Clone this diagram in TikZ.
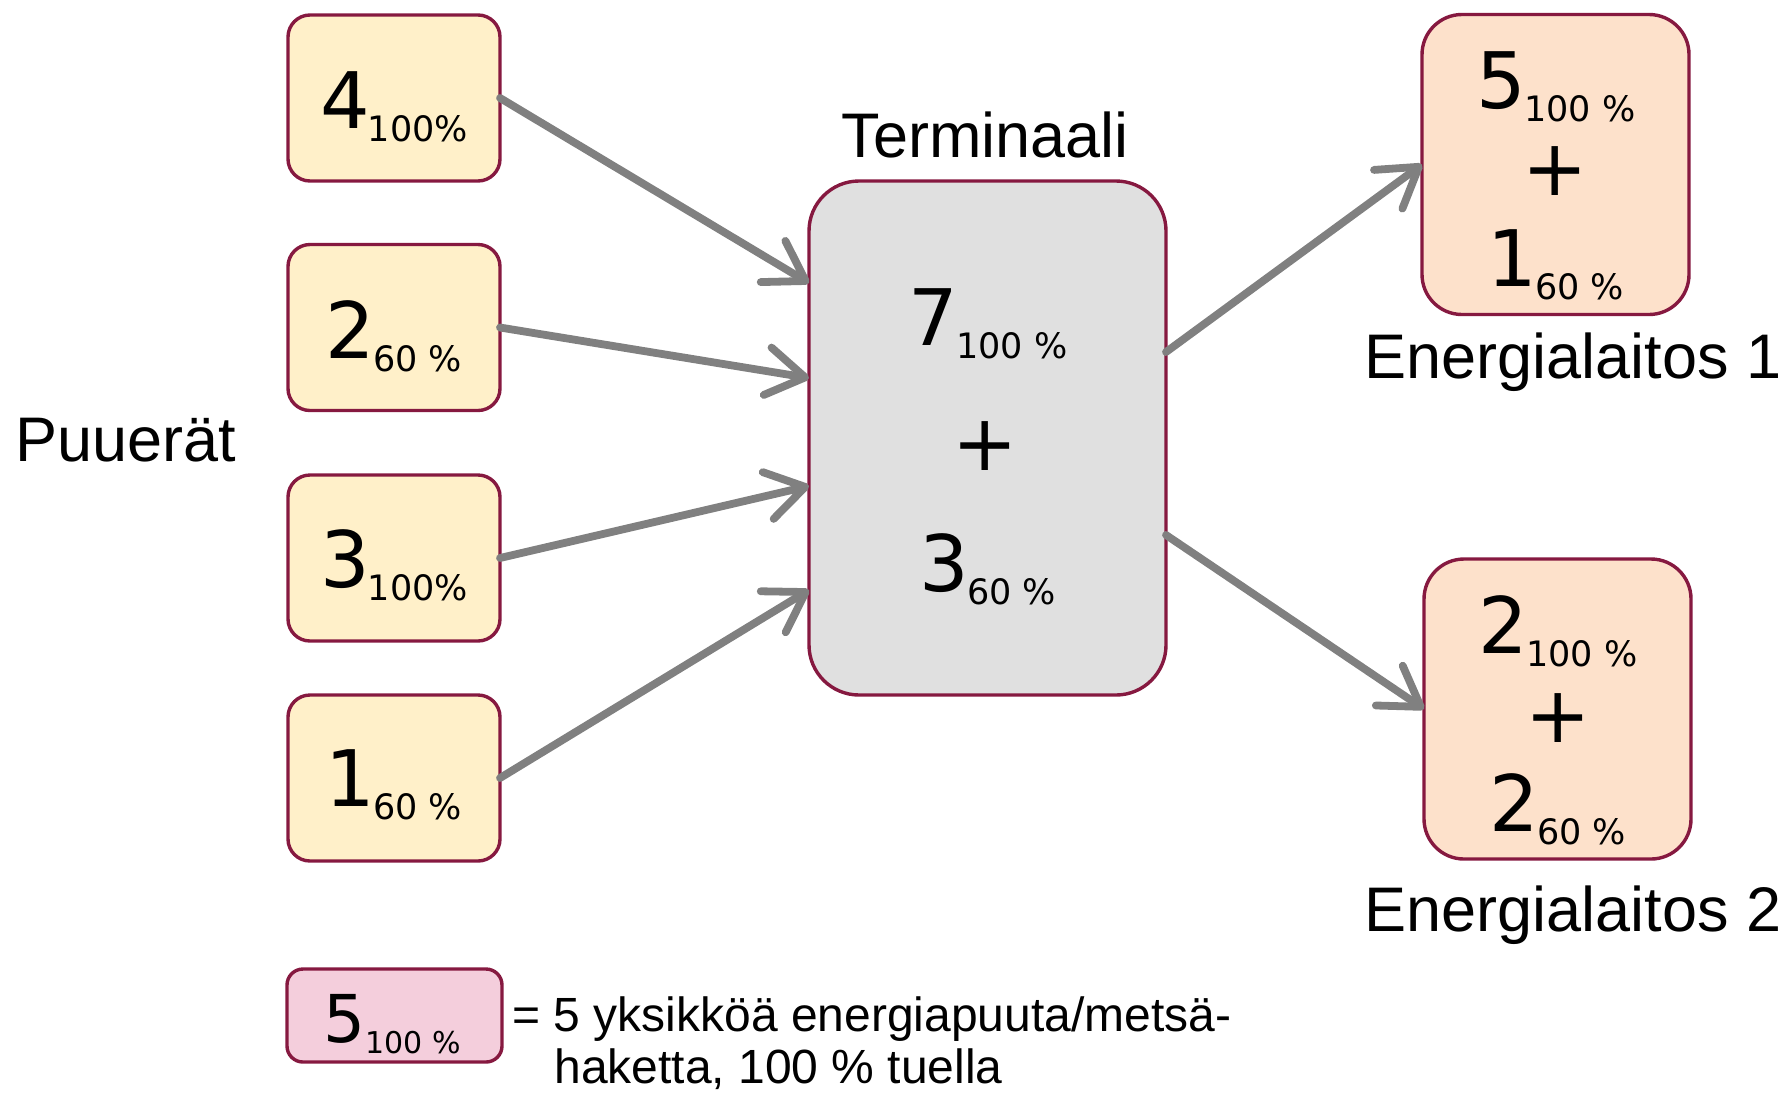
\documentclass[tikz,border=0pt]{standalone}
\usepackage{fontspec}
\usepackage{graphicx}
\usetikzlibrary{arrows.meta,calc}
\newfontfamily\vfont{DejaVu Sans}
\newfontfamily\afont{Liberation Sans}
\definecolor{bordc}{RGB}{134,25,64}
\definecolor{inyel}{RGB}{255,240,201}
\definecolor{termgr}{RGB}{224,224,224}
\definecolor{outpch}{RGB}{253,225,203}
\definecolor{legpnk}{RGB}{244,206,220}
\definecolor{arrgr}{RGB}{128,128,128}
\newcommand\valtxt[2]{{\vfont\fontsize{39}{39}\selectfont #1}\kern-1pt\raisebox{-6.5pt}{\vfont\fontsize{17.5}{17.5}\selectfont #2}}
\newcommand\plustxt{{\vfont\fontsize{39}{39}\selectfont +}}
\tikzset{
  boxbase/.style={draw=bordc, line width=1.7pt, inner sep=0pt, outer sep=0pt},
  inbox/.style={boxbase, fill=inyel, rounded corners=11pt, minimum width=106pt, minimum height=83pt},
  termbox/.style={boxbase, fill=termgr, rounded corners=25pt, minimum width=178.5pt, minimum height=257pt},
  outbox/.style={boxbase, fill=outpch, rounded corners=20pt, minimum width=133.5pt, minimum height=150pt},
  legbox/.style={boxbase, fill=legpnk, rounded corners=8pt, minimum width=107.5pt, minimum height=46.5pt},
  valnode/.style={inner sep=0pt, anchor=base},
  plusnode/.style={inner sep=0pt, anchor=center},
  lbl/.style={inner sep=0pt, anchor=base, font=\afont\fontsize{31.5}{31.5}\selectfont},
  legtxt/.style={inner sep=0pt, anchor=base west, font=\afont\fontsize{24}{24}\selectfont},
  flow/.style={draw=arrgr, line width=3.9pt, line cap=round,
    -{Straight Barb[length=19pt,width=24pt,line cap=round,line join=round]}}
}
\begin{document}
\begin{tikzpicture}[x=0.5pt,y=-0.5pt]
\useasboundingbox (0,0) rectangle (1792,1093);
% input boxes
\node[inbox] (b1) at (394,98) {};
\node[inbox] (b2) at (394,327.5) {};
\node[inbox] (b3) at (394,558) {};
\node[inbox] (b4) at (394,778) {};
\node[valnode] (v1) at (394,128) {\valtxt{4}{100\%}};
\node[valnode] (v2) at (394,358) {\valtxt{2}{60 \%}};
\node[valnode] (v3) at (394,587) {\valtxt{3}{100\%}};
\node[valnode] (v4) at (394,806) {\valtxt{1}{60 \%}};
% terminal
\node[termbox] (term) at (987.5,438) {};
\node[valnode] (tv1) at (988,345) {\valtxt{7}{100 \%}};
\node[plusnode] (tp) at (985,446) {\plustxt};
\node[valnode] (tv2) at (988,591) {\valtxt{3}{60 \%}};
% outputs
\node[outbox] (e1) at (1555.5,164.5) {};
\node[valnode] (e1v1) at (1556,108) {\valtxt{5}{100 \%}};
\node[plusnode] (e1p) at (1555,171) {\plustxt};
\node[valnode] (e1v2) at (1556,286) {\valtxt{1}{60 \%}};
\node[outbox] (e2) at (1557.5,709) {};
\node[valnode] (e2v1) at (1558,653) {\valtxt{2}{100 \%}};
\node[plusnode] (e2p) at (1558,718) {\plustxt};
\node[valnode] (e2v2) at (1558,831) {\valtxt{2}{60 \%}};
% labels
\node[lbl] (lpuu) at (126,461) {Puuerät};
\node[lbl] (lterm) at (985,157) {Terminaali};
\node[lbl] (le1) at (1573,378) {Energialaitos 1};
\node[lbl] (le2) at (1573,931) {Energialaitos 2};
% legend
\node[legbox] (leg) at (394.5,1015.5) {};
\node[valnode] (legv) at (392,1042) {{\vfont\fontsize{33}{33}\selectfont 5}\raisebox{-5.5pt}{\vfont\fontsize{15}{15}\selectfont 100 \%}};
\node[legtxt] (lega) at (512,1031) {= 5 yksikköä energiapuuta/metsä-};
\node[legtxt] (legb) at (554,1083) {haketta, 100 \% tuella};
% connection points
\coordinate (t1) at ($(term.west)+(0,-155)$);
\coordinate (t2) at ($(term.west)+(0,-60)$);
\coordinate (t3) at ($(term.west)+(0,48)$);
\coordinate (t4) at ($(term.west)+(0,152)$);
\coordinate (t5) at ($(term.east)+(0,-86)$);
\coordinate (t6) at ($(term.east)+(0,97)$);
% arrows
\draw[flow] (b1.east) -- (t1);
\draw[flow] (b2.east) -- (t2);
\draw[flow] (b3.east) -- (t3);
\draw[flow] (b4.east) -- (t4);
\draw[flow] (t5) -- (e1.west);
\draw[flow] (t6) -- (e2.west);
\end{tikzpicture}
\end{document}
